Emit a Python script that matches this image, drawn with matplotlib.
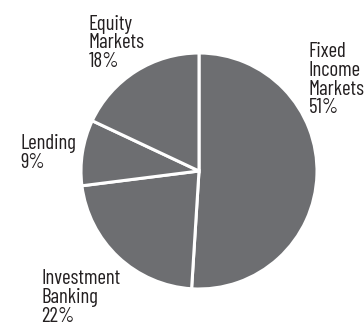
import matplotlib
matplotlib.use('Agg')
import matplotlib.pyplot as plt
from matplotlib import font_manager

# Revenue split by business line
labels = ['Fixed\nIncome\nMarkets', 'Investment\nBanking', 'Lending', 'Equity\nMarkets']
shares = [51, 22, 9, 18]

# narrow sans for the labels, first one that is installed
names = {f.name for f in font_manager.fontManager.ttflist}
family = 'DejaVu Sans'
for cand in ['Barlow Condensed', 'Archivo Narrow', 'PT Sans Narrow', 'Roboto Condensed']:
    if cand in names:
        family = cand
        break

W, H = 364, 324
fig = plt.figure(figsize=(W / 100, H / 100), dpi=100)
ax = fig.add_axes([0, 0, 1, 1])

ax.pie(shares, startangle=90, counterclock=False, center=(199, H - 171), radius=118,
       colors=['#6d6e71'] * len(shares),
       wedgeprops=dict(edgecolor='white', linewidth=2.2))

# pie() resets the limits, so set the pixel frame afterwards
ax.set_xlim(0, W)
ax.set_ylim(0, H)
ax.set_aspect('equal')
ax.axis('off')

# label anchors: left x and first baseline, in pixels from the top-left
spots = [(308.5, 57), (41.5, 284), (20, 149), (88.5, 29.5)]
step = 18.8
for lab, v, (x, y) in zip(labels, shares, spots):
    lines = lab.split('\n') + [f'{v}%']
    for i, line in enumerate(lines):
        ax.text(x, H - (y + i * step), line, ha='left', va='baseline',
                fontsize=15, family=family, color='#231f20')

fig.savefig('out.png', dpi=100)
